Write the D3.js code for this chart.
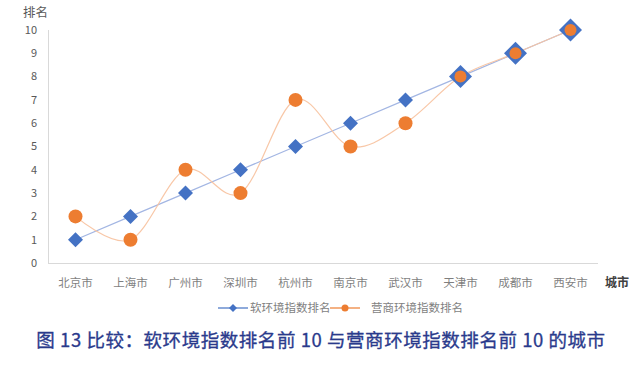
<!DOCTYPE html>
<html><head><meta charset="utf-8">
<script src="https://cdn.jsdelivr.net/npm/d3@7"></script>
<style>
body{margin:0;background:#fff;}
svg text{font-family:"Noto Sans CJK SC","Noto Sans",sans-serif;}
</style></head>
<body><svg id="c" width="640" height="368"></svg>
<script>
const categories = ["北京市","上海市","广州市","深圳市","杭州市","南京市","武汉市","天津市","成都市","西安市"];
const softRank = [1,2,3,4,5,6,7,8,9,10];
const bizRank = [2,1,4,3,7,5,6,8,9,10];
const yTicks = [0,1,2,3,4,5,6,7,8,9,10];
const seriesNames = ["软环境指数排名","营商环境指数排名"];
const yTitle = "排名", xTitle = "城市";
const caption = "图 13 比较：软环境指数排名前 10 与营商环境指数排名前 10 的城市";

(function(){
const svg = d3.select("#c");
const pl = 48, pr = 598, pt = 30, pb = 263;
const x = d3.scaleBand().domain(categories).range([pl, pr]);
const y = d3.scaleLinear().domain([0,10]).range([pb, pt]);
const cx = d => x(d) + x.bandwidth()/2;

// axes
svg.append("line").attr("x1",pl+0.5).attr("x2",pl+0.5).attr("y1",pt).attr("y2",pb).attr("stroke","#d9d9d9");
svg.append("line").attr("x1",pl).attr("x2",pr).attr("y1",pb+0.5).attr("y2",pb+0.5).attr("stroke","#d9d9d9");

svg.append("g").selectAll("text").data(yTicks).join("text")
  .attr("x", 37).attr("y", d => y(d)).attr("dy","0.35em").attr("text-anchor","end")
  .attr("font-size",11).attr("fill","#595959").text(d=>d);
svg.append("g").selectAll("text").data(categories).join("text")
  .attr("x", d=>cx(d)).attr("y", 283).attr("dy","0.35em").attr("text-anchor","middle")
  .attr("font-size",11.5).attr("fill","#7f7f7f").text(d=>d);
svg.append("text").attr("x",23).attr("y",13).attr("dy","0.35em").attr("font-size",12.5).attr("fill","#595959").text(yTitle);
svg.append("text").attr("x",605).attr("y",283).attr("dy","0.35em").attr("font-size",12).attr("font-weight","bold").attr("fill","#404040").text(xTitle);

// lines
const blue = "#4472c4", orange = "#ed7d31";
const lineS = d3.line().x((d,i)=>cx(categories[i])).y(d=>y(d));
const lineC = d3.line().x((d,i)=>cx(categories[i])).y(d=>y(d)).curve(d3.curveCardinal.tension(0));
svg.append("path").attr("d",lineS(softRank)).attr("fill","none").attr("stroke","#a3b6e3").attr("stroke-width",1.2);
svg.append("path").attr("d",lineC(bizRank)).attr("fill","none").attr("stroke","#f8c4a2").attr("stroke-width",1.2).attr("opacity",0.95);

// markers
const diamond = (s) => `M0,${-s}L${s},0L0,${s}L${-s},0Z`;
svg.append("g").selectAll("path").data(softRank).join("path")
  .attr("transform",(d,i)=>`translate(${cx(categories[i])},${y(d)})`)
  .attr("d",(d,i)=> diamond(i>=7 ? 11.5 : 7.5)).attr("fill",blue);
svg.append("g").selectAll("circle").data(bizRank).join("circle")
  .attr("cx",(d,i)=>cx(categories[i])).attr("cy",d=>y(d))
  .attr("r",(d,i)=> i>=7 ? 6 : 7).attr("fill",orange);

// legend
const lg = svg.append("g");
lg.append("line").attr("x1",218).attr("x2",248).attr("y1",308).attr("y2",308).attr("stroke",blue).attr("stroke-width",1.2);
lg.append("path").attr("transform","translate(233,308)").attr("d",diamond(4)).attr("fill",blue);
lg.append("text").attr("x",250).attr("y",308).attr("dy","0.35em").attr("font-size",11.5).attr("fill","#7f7f7f").text(seriesNames[0]);
lg.append("line").attr("x1",330).attr("x2",360).attr("y1",308).attr("y2",308).attr("stroke",orange).attr("stroke-width",1.2);
lg.append("circle").attr("cx",345).attr("cy",308).attr("r",3.5).attr("fill",orange);
lg.append("text").attr("x",371).attr("y",308).attr("dy","0.35em").attr("font-size",11.5).attr("fill","#7f7f7f").text(seriesNames[1]);

// caption
svg.append("text").attr("x",321).attr("y",341).attr("dy","0.35em").attr("text-anchor","middle")
  .attr("font-size",18.5).attr("font-weight",400).attr("letter-spacing",0.55).attr("fill","#2a3a8c")
  .attr("stroke","#2a3a8c").attr("stroke-width",0.3).text(caption);
})();
</script></body></html>
